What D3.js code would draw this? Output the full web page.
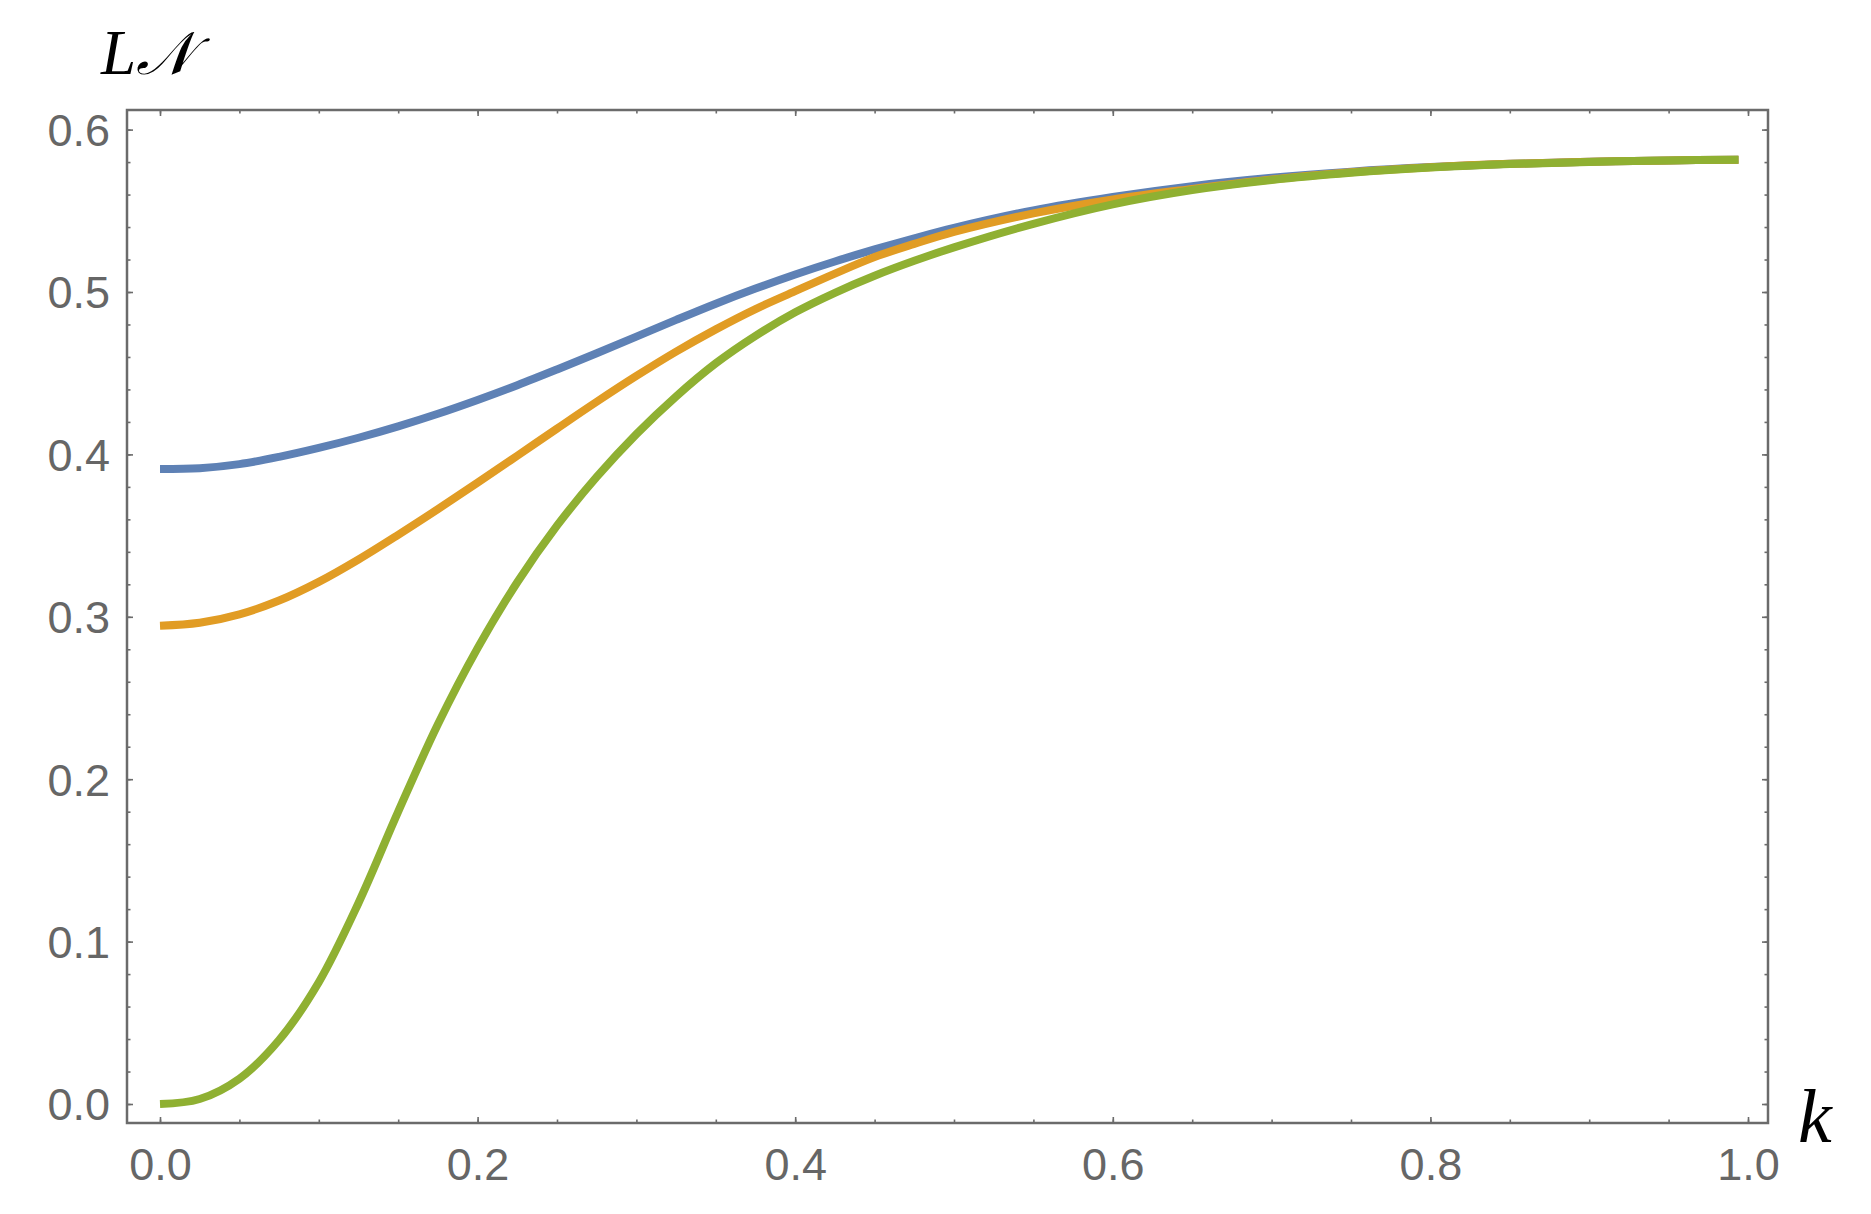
<!DOCTYPE html>
<html>
<head>
<meta charset="utf-8">
<script src="https://cdn.jsdelivr.net/npm/d3@7"></script>
<style>
  html, body { margin: 0; padding: 0; background: #ffffff; }
  svg { display: block; }
</style>
</head>
<body>
<svg id="chart" width="1871" height="1214"></svg>
<script>
// ---------------- data ----------------
const kValues      = [0, 0.025, 0.05, 0.075, 0.1, 0.125, 0.15, 0.175, 0.2, 0.225, 0.25, 0.275, 0.3, 0.325, 0.35, 0.375, 0.4, 0.425, 0.45, 0.475, 0.5, 0.55, 0.6, 0.65, 0.7, 0.75, 0.8, 0.85, 0.9, 0.95, 0.994];
const blueValues   = [0.391, 0.3915, 0.394, 0.3985, 0.404, 0.41025, 0.41725, 0.425, 0.4335, 0.4426, 0.4523, 0.4623, 0.4725, 0.4828, 0.4928, 0.5021, 0.5108, 0.5188, 0.5262, 0.5331, 0.5395, 0.5503, 0.5585, 0.5652, 0.5703, 0.5741, 0.5769, 0.5789, 0.5802, 0.5810, 0.5815];
const orangeValues = [0.2945, 0.2963, 0.3015, 0.3100, 0.3215, 0.3353, 0.3505, 0.3663, 0.3826, 0.3992, 0.4159, 0.4324, 0.4483, 0.4633, 0.4770, 0.4895, 0.5005, 0.5113, 0.5215, 0.5296, 0.5370, 0.5484, 0.5570, 0.5635, 0.5693, 0.5737, 0.5768, 0.5789, 0.5802, 0.5810, 0.5815];
const greenValues  = [0, 0.0031, 0.0156, 0.0394, 0.0750, 0.1238, 0.1800, 0.2338, 0.2807, 0.3213, 0.3561, 0.3861, 0.4125, 0.4357, 0.4561, 0.4730, 0.4875, 0.4995, 0.5100, 0.5192, 0.5275, 0.5420, 0.5540, 0.5628, 0.5690, 0.5734, 0.5766, 0.5788, 0.5801, 0.5810, 0.5815];

const seriesNames  = ["blue", "orange", "green"];
const seriesColors = ["#5E81B5", "#E19C24", "#8FB032"];

const xMajorTicks = [0, 0.2, 0.4, 0.6, 0.8, 1.0];
const xTickLabels = ["0.0", "0.2", "0.4", "0.6", "0.8", "1.0"];
const yMajorTicks = [0, 0.1, 0.2, 0.3, 0.4, 0.5, 0.6];
const yTickLabels = ["0.0", "0.1", "0.2", "0.3", "0.4", "0.5", "0.6"];
const xMinorTicks = d3.range(0, 21).map(i => i * 0.05);
const yMinorTicks = d3.range(0, 31).map(i => i * 0.02);

const xLabel = "k";
const yLabelL = "L";
const yLabelN = "\u{1D4A9}";

// ---------------- layout ----------------
const frame = { left: 127, right: 1768, top: 110, bottom: 1123 };
const x = d3.scaleLinear().domain([0, 1]).range([160, 1748]);
const y = d3.scaleLinear().domain([0, 0.6]).range([1104, 129.6]);

const svg = d3.select("#chart");
const axisColor = "#6b6b6b";
const majorLen = 6, minorLen = 3.5;

// curves
const series = [blueValues, orangeValues, greenValues];
const line = d3.line()
  .x((d, i) => x(kValues[i]))
  .y(d => y(d))
  .curve(d3.curveCatmullRom.alpha(0.5));

svg.append("g").selectAll("path")
  .data(series)
  .join("path")
  .attr("class", (d, i) => "series-" + seriesNames[i])
  .attr("fill", "none")
  .attr("stroke", (d, i) => seriesColors[i])
  .attr("stroke-width", 8)
  .attr("stroke-linejoin", "round")
  .attr("stroke-linecap", "butt")
  .attr("d", d => line(d));

// axes helper
function styleAxis(g) {
  g.select(".domain").remove();
  g.selectAll(".tick line").attr("stroke", axisColor).attr("stroke-width", 1.6);
}

// bottom
const gBottomMinor = svg.append("g").attr("transform", `translate(0,${frame.bottom})`)
  .call(d3.axisBottom(x).tickValues(xMinorTicks).tickSize(-minorLen).tickFormat(""));
styleAxis(gBottomMinor);
const gBottom = svg.append("g").attr("transform", `translate(0,${frame.bottom})`)
  .call(d3.axisBottom(x).tickValues(xMajorTicks).tickSize(-majorLen).tickPadding(25)
    .tickFormat((d, i) => xTickLabels[i]));
styleAxis(gBottom);
gBottom.selectAll(".tick text")
  .attr("y", 57).attr("dy", null)
  .attr("fill", "#666666")
  .style("font-family", "'Liberation Sans', Arial, sans-serif")
  .style("font-size", "45px");

// top
const gTopMinor = svg.append("g").attr("transform", `translate(0,${frame.top})`)
  .call(d3.axisTop(x).tickValues(xMinorTicks).tickSize(-minorLen).tickFormat(""));
styleAxis(gTopMinor);
const gTop = svg.append("g").attr("transform", `translate(0,${frame.top})`)
  .call(d3.axisTop(x).tickValues(xMajorTicks).tickSize(-majorLen).tickFormat(""));
styleAxis(gTop);

// left
const gLeftMinor = svg.append("g").attr("transform", `translate(${frame.left},0)`)
  .call(d3.axisLeft(y).tickValues(yMinorTicks).tickSize(-minorLen).tickFormat(""));
styleAxis(gLeftMinor);
const gLeft = svg.append("g").attr("transform", `translate(${frame.left},0)`)
  .call(d3.axisLeft(y).tickValues(yMajorTicks).tickSize(-majorLen).tickPadding(17)
    .tickFormat((d, i) => yTickLabels[i]));
styleAxis(gLeft);
gLeft.selectAll(".tick text")
  .attr("x", -17).attr("dy", "0.355em")
  .attr("fill", "#666666")
  .style("font-family", "'Liberation Sans', Arial, sans-serif")
  .style("font-size", "45px");

// right
const gRightMinor = svg.append("g").attr("transform", `translate(${frame.right},0)`)
  .call(d3.axisRight(y).tickValues(yMinorTicks).tickSize(-minorLen).tickFormat(""));
styleAxis(gRightMinor);
const gRight = svg.append("g").attr("transform", `translate(${frame.right},0)`)
  .call(d3.axisRight(y).tickValues(yMajorTicks).tickSize(-majorLen).tickFormat(""));
styleAxis(gRight);

// frame
svg.append("rect")
  .attr("x", frame.left).attr("y", frame.top)
  .attr("width", frame.right - frame.left).attr("height", frame.bottom - frame.top)
  .attr("fill", "none").attr("stroke", axisColor).attr("stroke-width", 2.5);

// axis labels
const yLab = svg.append("text")
  .attr("x", 101).attr("y", 74)
  .attr("fill", "#000")
  .style("font-family", "'Liberation Serif', 'Times New Roman', serif")
  .style("font-style", "italic")
  .style("font-size", "63px");
yLab.append("tspan").text(yLabelL);
yLab.append("tspan").text(yLabelN)
  .style("font-family", "'DejaVu Serif', 'DejaVu Sans', 'Noto Sans', serif")
  .style("font-size", "60px");

svg.append("text")
  .attr("x", 1798).attr("y", 1142)
  .attr("fill", "#000")
  .style("font-family", "'Liberation Serif', 'Times New Roman', serif")
  .style("font-style", "italic")
  .style("font-size", "76px")
  .text(xLabel);
</script>
</body>
</html>
